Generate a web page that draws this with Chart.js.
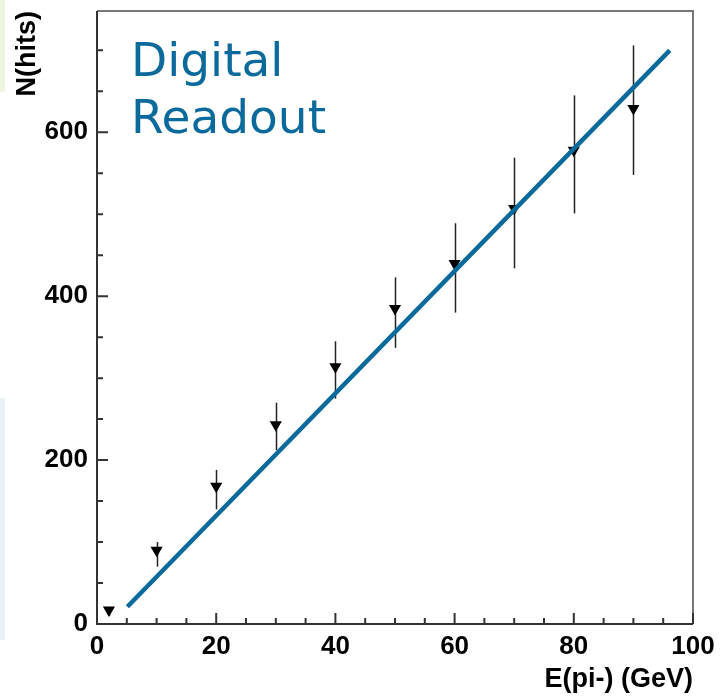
<!DOCTYPE html>
<html>
<head>
<meta charset="utf-8">
<script src="https://cdn.jsdelivr.net/npm/chart.js@4/dist/chart.umd.min.js"></script>
<style>
  html, body { margin: 0; padding: 0; background: #fff; }
  canvas { display: block; }
</style>
</head>
<body>
<canvas id="c" width="723" height="696"></canvas>
<script>
// beam energy (GeV) and mean number of hits
const energy = [2, 10, 20, 30, 40, 50, 60, 70, 80, 90];
const hits   = [17, 90, 168, 243, 314, 385, 440, 507, 578, 629];
// error bar ends
const hitsHigh = [20, 100, 188, 270, 345, 423, 489, 569, 645, 706];
const hitsLow  = [10, 70, 140, 212, 275, 337, 380, 434, 501, 548];

// linear fit, drawn between its two end points
const fitX = [5.1, 96.1];
const fitY = [21, 700];

// labelled (major) ticks; minor ticks every 5 GeV and every 50 hits
const xTickLabels = [0, 20, 40, 60, 80, 100];
const yTickLabels = [0, 200, 400, 600];
const X_MINOR = 5, X_MAX = 100;
const Y_MINOR = 50, Y_MAX = 748;

const BLUE = '#0b6a9c';
const labelFont = { family: '"Liberation Sans", Arial, sans-serif', weight: 'bold', size: 26, lineHeight: 1.2 };
const titleFont = { family: '"Liberation Sans", Arial, sans-serif', weight: 'bold', size: 27, lineHeight: 1.2 };

function tickValues(step, max) {
  const out = [];
  for (let v = 0; v <= max; v += step) out.push(v);
  return out;
}

const decor = {
  id: 'decor',
  beforeDraw(chart) {
    const ctx = chart.ctx;
    ctx.save();
    ctx.fillStyle = '#ffffff';
    ctx.fillRect(0, 0, chart.width, chart.height);
    // faint slide background at the left edge
    ctx.fillStyle = '#eef6e2';
    ctx.fillRect(0, 0, 5, 92);
    ctx.fillStyle = '#e9f2fb';
    ctx.fillRect(0, 398, 5, 242);
    ctx.restore();
  },
  beforeDatasetsDraw(chart) {
    const { ctx, scales: { x, y } } = chart;
    ctx.save();
    ctx.strokeStyle = '#222';
    ctx.lineWidth = 1.5;
    energy.forEach((e, i) => {
      const px = Math.round(x.getPixelForValue(e)) + 0.5;
      ctx.beginPath();
      ctx.moveTo(px, y.getPixelForValue(hitsHigh[i]));
      ctx.lineTo(px, y.getPixelForValue(hitsLow[i]));
      ctx.stroke();
    });
    ctx.restore();
  },
  afterDraw(chart) {
    const { ctx, chartArea: a, scales: { x, y } } = chart;
    ctx.save();
    // frame
    ctx.lineWidth = 2;
    ctx.strokeStyle = '#777';
    ctx.beginPath();
    ctx.moveTo(a.left, a.top);
    ctx.lineTo(a.right, a.top);
    ctx.lineTo(a.right, a.bottom);
    ctx.stroke();
    ctx.strokeStyle = '#333';
    ctx.beginPath();
    ctx.moveTo(a.left, a.top);
    ctx.lineTo(a.left, a.bottom);
    ctx.lineTo(a.right, a.bottom);
    ctx.stroke();
    // inward tick marks
    ctx.lineWidth = 2;
    ctx.strokeStyle = '#333';
    ctx.beginPath();
    tickValues(X_MINOR, X_MAX).forEach(v => {
      const px = x.getPixelForValue(v);
      const len = xTickLabels.includes(v) ? 11 : 6;
      ctx.moveTo(px, a.bottom);
      ctx.lineTo(px, a.bottom - len);
    });
    tickValues(Y_MINOR, Y_MAX).forEach(v => {
      const py = y.getPixelForValue(v);
      const len = yTickLabels.includes(v) ? 11 : 6;
      ctx.moveTo(a.left, py);
      ctx.lineTo(a.left + len, py);
    });
    ctx.stroke();
    // caption
    ctx.fillStyle = BLUE;
    ctx.font = '47px "DejaVu Sans", Verdana, sans-serif';
    ctx.textBaseline = 'alphabetic';
    ctx.fillText('Digital', 131, 76);
    ctx.fillText('Readout', 131, 133);
    ctx.restore();
  }
};

new Chart(document.getElementById('c'), {
  type: 'scatter',
  data: {
    datasets: [
      {
        label: 'fit',
        data: fitX.map((v, i) => ({ x: v, y: fitY[i] })),
        showLine: true,
        borderColor: BLUE,
        borderWidth: 4.5,
        borderCapStyle: 'butt',
        pointRadius: 0,
        pointHoverRadius: 0
      },
      {
        label: 'N(hits)',
        data: energy.map((e, i) => ({ x: e, y: hits[i] })),
        pointStyle: 'triangle',
        rotation: 180,
        pointRadius: 7,
        pointHoverRadius: 7,
        backgroundColor: '#000',
        borderColor: '#000',
        borderWidth: 0
      }
    ]
  },
  options: {
    responsive: false,
    animation: false,
    devicePixelRatio: 1,
    layout: { padding: { top: 11, right: 30, left: 0, bottom: 0 } },
    plugins: { legend: { display: false }, tooltip: { enabled: false } },
    scales: {
      x: {
        type: 'linear',
        min: 0,
        max: X_MAX,
        grid: { display: false, drawTicks: false },
        border: { display: false },
        ticks: {
          autoSkip: false,
          maxRotation: 0,
          padding: 7,
          color: '#000',
          font: labelFont,
          callback: v => (xTickLabels.includes(v) ? String(v) : null)
        },
        afterBuildTicks: s => { s.ticks = tickValues(X_MINOR, X_MAX).map(v => ({ value: v })); },
        title: {
          display: true,
          text: 'E(pi-) (GeV)',
          align: 'end',
          color: '#000',
          font: titleFont,
          padding: { top: 0, bottom: 0 }
        },
        afterFit: s => {
          s.height = 72;
          s.paddingLeft = 0;
          s.paddingRight = 0;
        }
      },
      y: {
        type: 'linear',
        min: 0,
        max: Y_MAX,
        grid: { display: false, drawTicks: false },
        border: { display: false },
        ticks: {
          autoSkip: false,
          padding: 9,
          color: '#000',
          font: labelFont,
          callback: v => (yTickLabels.includes(v) ? String(v) : null)
        },
        afterBuildTicks: s => { s.ticks = tickValues(Y_MINOR, Y_MAX).map(v => ({ value: v })); },
        title: {
          display: true,
          text: 'N(hits)',
          align: 'end',
          color: '#000',
          font: titleFont,
          padding: { top: 11, bottom: 0 }
        },
        afterFit: s => {
          s.width = 97;
          s.paddingTop = 0;
          s.paddingBottom = 0;
        }
      }
    }
  },
  plugins: [decor]
});
</script>
</body>
</html>
